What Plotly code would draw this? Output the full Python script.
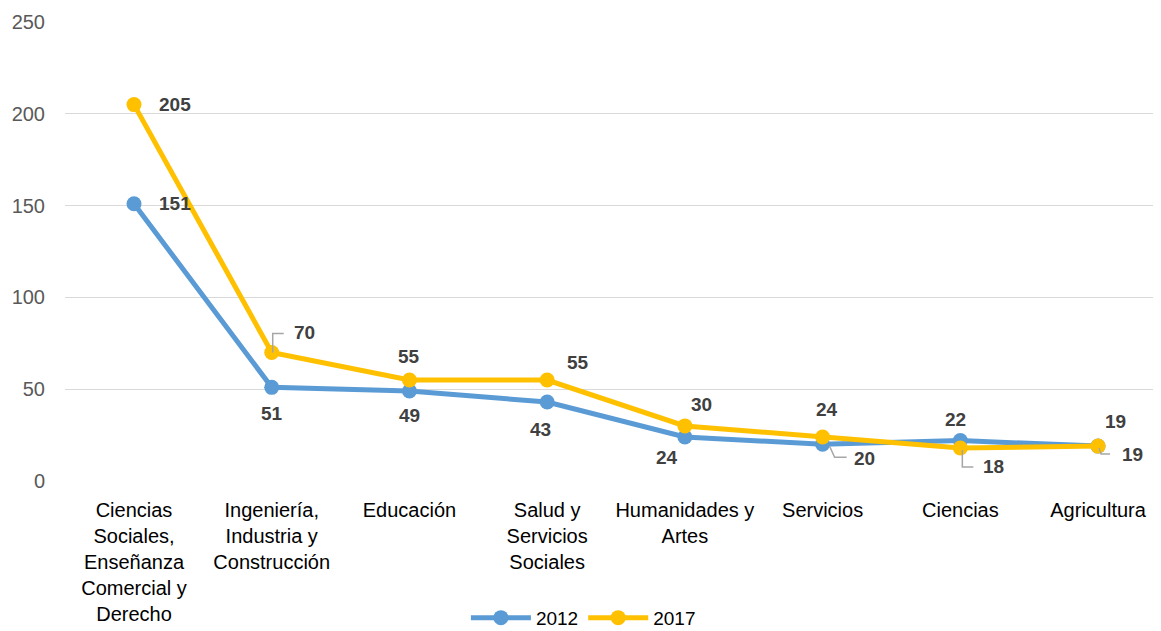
import plotly.graph_objects as go

categories = [
    "Ciencias<br>Sociales,<br>Enseñanza<br>Comercial y<br>Derecho",
    "Ingeniería,<br>Industria y<br>Construcción",
    "Educación",
    "Salud y<br>Servicios<br>Sociales",
    "Humanidades y<br>Artes",
    "Servicios",
    "Ciencias",
    "Agricultura",
]
values_2012 = [151, 51, 49, 43, 24, 20, 22, 19]
values_2017 = [205, 70, 55, 55, 30, 24, 18, 19]
y_ticks = [0, 50, 100, 150, 200, 250]

# label pixel offsets (xshift, yshift) for each point
off_2012 = [(41, 0), (0, -26), (0, -24), (-7, -27), (-18, -21), (42, -14), (-5, 21), (34, -8)]
off_2017 = [(41, 0), (33, 20), (0, 24), (31, 18), (17, 21), (4, 27), (33, -19), (17, 25)]
# leader lines (path in pixels relative to point)
lead_2012 = {5: [(7, -2), (12, -13), (24, -13)], 7: [(1, -2), (3, -8), (12, -8)]}
lead_2017 = {1: [(1, 0), (1, 19), (12, 19)], 6: [(2, -2), (2, -19), (13, -19)]}

BLUE = "#5B9BD5"
GOLD = "#FFC000"
FONT = "Liberation Sans Narrow, Arial Narrow, Liberation Sans, Arial, sans-serif"

fig = go.Figure()
xs = list(range(len(categories)))
fig.add_trace(go.Scatter(x=xs, y=values_2012, name="2012", mode="lines+markers",
                         line=dict(color=BLUE, width=5), marker=dict(size=15, color=BLUE)))
fig.add_trace(go.Scatter(x=xs, y=values_2017, name="2017", mode="lines+markers",
                         line=dict(color=GOLD, width=5), marker=dict(size=15, color=GOLD)))

anns = []
shapes = []
for vals, offs, leads in ((values_2012, off_2012, lead_2012), (values_2017, off_2017, lead_2017)):
    for i, v in enumerate(vals):
        dx, dy = offs[i]
        anns.append(dict(x=i, y=v, xref="x", yref="y", text=f"<b>{v}</b>", showarrow=False,
                         xshift=dx, yshift=dy, font=dict(family=FONT, size=19, color="#404040")))
        if i in leads:
            pts = leads[i]
            path = "M" + " L".join(f"{px},{py}" for px, py in pts)
            shapes.append(dict(type="path", path=path, xref="x", yref="y",
                               xsizemode="pixel", ysizemode="pixel", xanchor=i, yanchor=v,
                               line=dict(color="#A6A6A6", width=1.5)))

fig.update_layout(
    width=1153, height=623,
    margin=dict(l=57, r=0, t=14, b=150, autoexpand=False),
    paper_bgcolor="white", plot_bgcolor="white",
    font=dict(family=FONT, size=18, color="#000000"),
    showlegend=True,
    legend=dict(orientation="h", x=0.473, xanchor="center", y=-0.298, yanchor="middle",
                font=dict(family=FONT, size=19, color="#000000"), itemwidth=60,
                traceorder="normal"),
    annotations=anns, shapes=shapes,
)
fig.update_xaxes(tickvals=xs, ticktext=categories, range=[-0.501, 7.457], automargin=False,
                 showgrid=False, zeroline=False, showline=False, ticks="",
                 ticklabelstandoff=15,
                 tickfont=dict(family=FONT, size=20, color="#000000"))
fig.update_yaxes(range=[0, 250], tickvals=y_ticks, showgrid=True, gridcolor="#D9D9D9",
                 gridwidth=1, zeroline=False, showline=False, ticks="", automargin=False,
                 ticklabelstandoff=19,
                 tickfont=dict(family=FONT, size=20, color="#595959"))

fig.write_html("out.html")
